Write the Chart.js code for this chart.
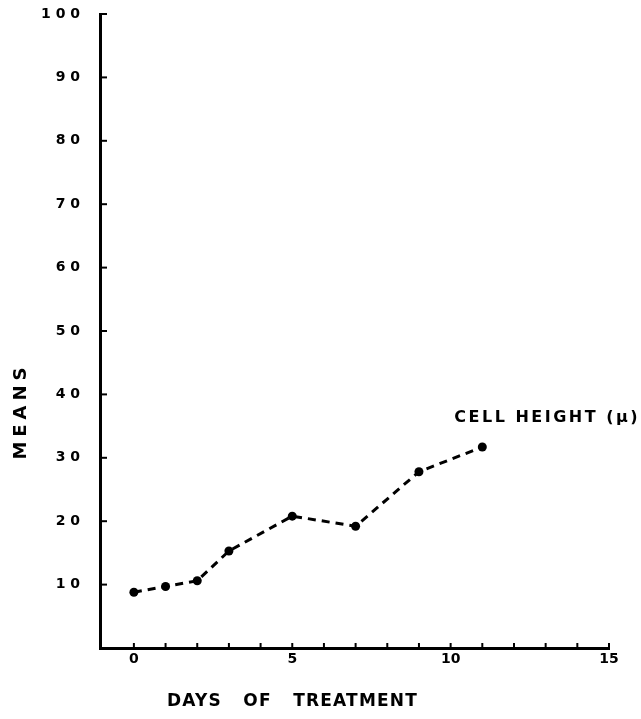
<!DOCTYPE html>
<html>
<head>
<meta charset="utf-8">
<script src="https://cdn.jsdelivr.net/npm/chart.js@4"></script>
<style>
  html, body { margin: 0; padding: 0; background: #fff; }
  #wrap { width: 641px; height: 719px; }
</style>
</head>
<body>
<div id="wrap"><canvas id="c" width="641" height="719"></canvas></div>
<script>
// ---- data ----
const days = [0, 1, 2, 3, 5, 7, 9, 11];
const cellHeight = [8.8, 9.7, 10.6, 15.3, 20.8, 19.2, 27.8, 31.7];
const xTickValues = [0,1,2,3,4,5,6,7,8,9,10,11,12,13,14,15];
const xTickLabels = {0: '0', 5: '5', 10: '10', 15: '15'};
const yTickValues = [0,10,20,30,40,50,60,70,80,90,100];
const yTickLabels = ['', '1 0', '2 0', '3 0', '4 0', '5 0', '6 0', '7 0', '8 0', '9 0', '1 0 0'];
const seriesLabel = 'CELL HEIGHT (\u03BC)';
const xTitle = 'DAYS   OF   TREATMENT';
const yTitle = 'MEANS';

const FONT = '"DejaVu Sans", "Liberation Sans", sans-serif';

const decor = {
  id: 'decor',
  afterDraw(chart) {
    const ctx = chart.ctx;
    const xs = chart.scales.x, ys = chart.scales.y;
    ctx.save();
    ctx.strokeStyle = '#000';
    ctx.lineWidth = 2;
    // inward ticks on y axis
    ys.ticks.forEach(t => {
      if (t.value <= 0) return;
      const py = ys.getPixelForValue(t.value);
      ctx.beginPath();
      ctx.moveTo(xs.left, py);
      ctx.lineTo(xs.left + 7, py);
      ctx.stroke();
    });
    // inward ticks on x axis
    xs.ticks.forEach(t => {
      if (t.value < 0) return;
      const px = xs.getPixelForValue(t.value);
      ctx.beginPath();
      ctx.moveTo(px, ys.bottom);
      ctx.lineTo(px, ys.bottom - 5);
      ctx.stroke();
    });
    ctx.fillStyle = '#000';
    // series annotation
    const n = days.length - 1;
    const lx = xs.getPixelForValue(days[n]);
    const ly = ys.getPixelForValue(cellHeight[n]);
    ctx.font = 'bold 16px ' + FONT;
    ctx.textBaseline = 'middle';
    ctx.textAlign = 'left';
    try { ctx.letterSpacing = '2.5px'; } catch (e) {}
    ctx.fillText(seriesLabel, lx - 28, ly - 29);
    // x title
    ctx.font = 'bold 17px ' + FONT;
    try { ctx.letterSpacing = '1.2px'; } catch (e) {}
    ctx.textAlign = 'left';
    ctx.fillText(xTitle, 167, 702);
    // y title
    ctx.translate(21, 413);
    ctx.rotate(-Math.PI / 2);
    ctx.font = 'bold 18px ' + FONT;
    ctx.textAlign = 'center';
    try { ctx.letterSpacing = '5px'; } catch (e) {}
    ctx.fillText(yTitle, 2, 0);
    ctx.restore();
  }
};

new Chart(document.getElementById('c'), {
  type: 'line',
  data: {
    datasets: [{
      label: seriesLabel,
      data: days.map((d, i) => ({x: d, y: cellHeight[i]})),
      borderColor: '#000',
      backgroundColor: '#000',
      borderWidth: 3,
      borderDash: [8, 6],
      pointRadius: 4.5,
      pointBackgroundColor: '#000',
      pointBorderWidth: 0,
      tension: 0
    }]
  },
  options: {
    responsive: false,
    animation: false,
    devicePixelRatio: 1,
    layout: { padding: { left: 0, right: 32, top: 14, bottom: 0 } },
    plugins: { legend: { display: false }, tooltip: { enabled: false } },
    scales: {
      x: {
        type: 'linear',
        min: -1.07,
        max: 15,
        afterBuildTicks(s) { s.ticks = xTickValues.map(v => ({value: v})); },
        afterFit(s) { s.height = 71; s.paddingLeft = 0; s.paddingRight = 0; },
        grid: { display: false, drawTicks: false },
        border: { display: true, color: '#000', width: 3 },
        ticks: {
          autoSkip: false,
          maxRotation: 0,
          padding: 3,
          color: '#000',
          font: { family: FONT, size: 14, weight: 'bold' },
          callback: v => xTickLabels[v] !== undefined ? xTickLabels[v] : ''
        }
      },
      y: {
        type: 'linear',
        min: 0,
        max: 100,
        afterBuildTicks(s) { s.ticks = yTickValues.map(v => ({value: v})); },
        afterFit(s) { s.width = 100; s.paddingTop = 0; s.paddingBottom = 0; },
        grid: { display: false, drawTicks: false },
        border: { display: true, color: '#000', width: 3 },
        ticks: {
          autoSkip: false,
          padding: 20,
          color: '#000',
          font: { family: FONT, size: 14, weight: 'bold' },
          callback: (v) => yTickLabels[yTickValues.indexOf(v)] || ''
        }
      }
    }
  },
  plugins: [decor]
});
</script>
</body>
</html>
